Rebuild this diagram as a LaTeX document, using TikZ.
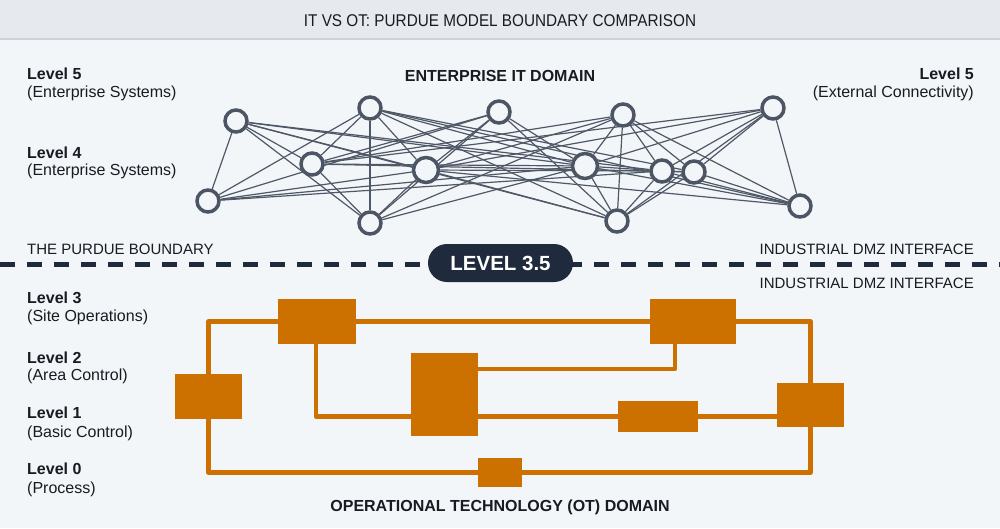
\documentclass[tikz,border=0pt]{standalone}
\usepackage{fontspec}
\setmainfont{Liberation Sans}
\newfontfamily\titlefont[FakeStretch=0.9]{Liberation Sans}
\definecolor{bgc}{HTML}{F3F6F9}
\definecolor{hdr}{HTML}{E6EAEF}
\definecolor{hdrline}{HTML}{CDD3DA}
\definecolor{txt}{HTML}{171B22}
\definecolor{navy}{HTML}{1F2A3C}
\definecolor{nodec}{HTML}{4B5563}
\definecolor{edgec}{HTML}{4F5866}
\definecolor{otc}{HTML}{CC7000}
\pgfdeclarelayer{bg}
\pgfdeclarelayer{edges}
\pgfsetlayers{bg,edges,main}
\begin{document}
\begin{tikzpicture}[x=1pt,y=-1pt,
  nd/.style={circle,draw=nodec,line width=3.5pt,fill=bgc,minimum size=22pt,inner sep=0pt},
  ndl/.style={nd,minimum size=25pt},
  edge/.style={draw=edgec,line width=1.2pt},
  obox/.style={fill=otc,inner sep=0pt,draw=none},
  olink/.style={draw=otc,line width=4.5pt,line join=round},
  lvl/.style={font=\fontsize{16}{19}\selectfont\bfseries,text=txt,inner sep=0pt},
  sub/.style={font=\fontsize{16}{19}\selectfont,text=txt,inner sep=0pt},
  captxt/.style={font=\fontsize{15}{18}\selectfont,text=txt,inner sep=0pt},
  dom/.style={font=\fontsize{16}{19}\selectfont\bfseries,text=txt,inner sep=0pt}
]
\useasboundingbox (0,0) rectangle (1000,528);
\begin{pgfonlayer}{bg}
  \fill[bgc] (0,0) rectangle (1000,528);
  \fill[hdr] (0,0) rectangle (1000,39);
  \draw[hdrline,line width=1.2pt] (0,39) -- (1000,39);
\end{pgfonlayer}

% title
\node[font=\titlefont\fontsize{17}{20}\selectfont,text=txt,inner sep=0pt,anchor=base] (title) at (500,26) {IT VS OT: PURDUE MODEL BOUNDARY COMPARISON};

% left labels
\node[lvl,anchor=base west] (l5) at (27,79) {Level 5};
\node[sub,anchor=base west] (l5s) at (27,97) {(Enterprise Systems)};
\node[lvl,anchor=base west] (l4) at (27,158) {Level 4};
\node[sub,anchor=base west] (l4s) at (27,175) {(Enterprise Systems)};
\node[captxt,anchor=base west] (pb) at (27,254.5) {THE PURDUE BOUNDARY};
\node[lvl,anchor=base west] (l3) at (27,303) {Level 3};
\node[sub,anchor=base west] (l3s) at (27,321) {(Site Operations)};
\node[lvl,anchor=base west] (l2) at (27,363) {Level 2};
\node[sub,anchor=base west] (l2s) at (27,380) {(Area Control)};
\node[lvl,anchor=base west] (l1) at (27,418) {Level 1};
\node[sub,anchor=base west] (l1s) at (27,437) {(Basic Control)};
\node[lvl,anchor=base west] (l0) at (27,474) {Level 0};
\node[sub,anchor=base west] (l0s) at (27,493) {(Process)};

% right labels
\node[lvl,anchor=base east] (r5) at (974,79) {Level 5};
\node[sub,anchor=base east] (r5s) at (974,97) {(External Connectivity)};
\node[captxt,anchor=base east] (dmz1) at (974,254.5) {INDUSTRIAL DMZ INTERFACE};
\node[captxt,anchor=base east] (dmz2) at (974,288.5) {INDUSTRIAL DMZ INTERFACE};

% domain headings
\node[dom,anchor=base] (itd) at (500,81) {ENTERPRISE IT DOMAIN};
\node[dom,anchor=base] (otd) at (500,511) {OPERATIONAL TECHNOLOGY (OT) DOMAIN};

% boundary
\coordinate (dl) at (0,264);
\coordinate (dr) at (1000,264);
\draw[navy,line width=5pt,dash pattern=on 15pt off 12pt] (dl) -- (dr);
\node[fill=navy,rounded corners=19pt,minimum width=145pt,minimum height=38pt,inner sep=0pt,
  text=white,font=\fontsize{20.5}{24}\selectfont\bfseries] (l35) at (500.5,263) {LEVEL 3.5};

% IT network nodes
\node[nd] (A) at (236,121) {};
\node[nd] (B) at (370,108) {};
\node[nd] (C) at (499,112) {};
\node[nd] (D) at (623,115) {};
\node[nd] (E) at (773,108) {};
\node[nd] (F) at (312,164) {};
\node[ndl] (G) at (426,170) {};
\node[ndl] (H) at (585,166) {};
\node[nd] (I) at (662,171) {};
\node[nd] (J) at (694,172) {};
\node[nd] (K) at (208,201) {};
\node[nd] (L) at (370,223) {};
\node[nd] (M) at (617,221) {};
\node[nd] (N) at (800,206) {};

\begin{pgfonlayer}{edges}
\foreach \a/\b in {A/K,A/F,A/G,A/L,A/H,A/I,A/M,
  B/K,B/F,B/G,B/L,B/H,B/J,B/M,B/N,
  C/K,C/F,C/G,C/H,C/M,C/L,
  D/F,D/G,D/H,D/I,D/J,D/M,D/N,
  E/G,E/H,E/I,E/J,E/M,E/N,E/F,
  F/L,F/H,F/J,
  G/M,G/L,G/I,G/N,
  H/M,H/I,H/N,
  I/J,I/M,I/N,
  J/M,J/N,
  K/G,K/H,K/I,
  L/D,L/H}
  \draw[edge] (\a) -- (\b);
\end{pgfonlayer}

% OT boxes
\node[obox,minimum width=67pt,minimum height=45pt] (o1) at (208.5,396.5) {};
\node[obox,minimum width=78pt,minimum height=45pt] (o2) at (317,321.5) {};
\node[obox,minimum width=67pt,minimum height=83pt] (o3) at (444.5,394.5) {};
\node[obox,minimum width=44pt,minimum height=29pt] (o4) at (500,472.5) {};
\node[obox,minimum width=86pt,minimum height=45pt] (o5) at (693,321.5) {};
\node[obox,minimum width=80pt,minimum height=31pt] (o6) at (658,416.5) {};
\node[obox,minimum width=67pt,minimum height=44pt] (o7) at (810.5,405) {};

\begin{pgfonlayer}{edges}
  \draw[olink] (o1.north) |- (o2.west);
  \draw[olink] (o2.east) -- (o5.west);
  \draw[olink] (o5.east) -| (o7.north);
  \draw[olink] (o1.south) |- (o4.west);
  \draw[olink] (o4.east) -| (o7.south);
  \draw[olink] ([xshift=-1pt]o2.south) |- (o6.west);
  \draw[olink] (o6.east) -- (o7.west |- o6.east);
  \draw[olink] ([yshift=25.5pt]o3.east) -| ([xshift=-18pt]o5.south);
\end{pgfonlayer}
\end{tikzpicture}
\end{document}
